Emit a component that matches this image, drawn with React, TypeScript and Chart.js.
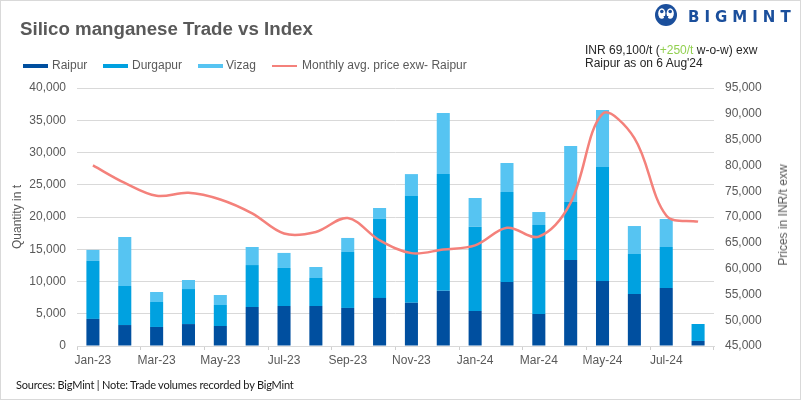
import React, { useEffect, useRef } from 'react';
import { Chart, registerables } from 'chart.js';

Chart.register(...registerables);

const categories = [
  'Jan-23', 'Feb-23', 'Mar-23', 'Apr-23', 'May-23', 'Jun-23', 'Jul-23', 'Aug-23', 'Sep-23', 'Oct-23',
  'Nov-23', 'Dec-23', 'Jan-24', 'Feb-24', 'Mar-24', 'Apr-24', 'May-24', 'Jun-24', 'Jul-24', 'Aug-24',
];
const raipur = [4200, 3250, 2950, 3400, 3100, 6050, 6200, 6200, 5900, 7450, 6700, 8550, 5430, 9920, 4960, 13330, 10080, 8060, 8990, 780];
const durgapur = [9000, 6050, 3870, 5430, 3260, 6500, 5900, 4340, 8680, 12250, 16550, 18120, 13070, 13960, 13800, 9000, 17670, 6200, 6360, 2630];
const vizag = [1700, 7600, 1550, 1400, 1550, 2800, 2330, 1710, 2170, 1700, 3400, 9450, 4450, 4490, 2010, 8680, 8840, 4340, 4340, 0];
const priceRaipur = [80000, 76600, 74100, 74700, 73400, 70700, 66800, 67100, 69800, 65500, 63000, 63700, 64500, 67900, 66200, 72800, 90000, 85300, 70300, 69100];

const qtyAxis = { min: 0, max: 40000, step: 5000 };
const priceAxis = { min: 45000, max: 95000, step: 5000 };

const COLORS = {
  raipur: '#004f9f',
  durgapur: '#00a1e0',
  vizag: '#56c4f2',
  price: '#f4817b',
  text: '#595959',
  grid: '#d9d9d9',
};

const FONT = "'Liberation Sans', Arial, sans-serif";

export default function App() {
  const ref = useRef<HTMLCanvasElement>(null);

  useEffect(() => {
    if (!ref.current) return;
    const fmt = (v: any) => Number(v).toLocaleString('en-US');
    const tickFont = { family: FONT, size: 12 };
    const chart = new Chart(ref.current, {
      type: 'bar',
      data: {
        labels: categories,
        datasets: [
          {
            type: 'line' as const,
            label: 'Monthly avg. price exw- Raipur',
            data: priceRaipur,
            yAxisID: 'y1',
            borderColor: COLORS.price,
            borderWidth: 2.5,
            pointRadius: 0,
            tension: 0.35,
            fill: false,
            order: 0,
          },
          {
            label: 'Raipur',
            data: raipur,
            backgroundColor: COLORS.raipur,
            barPercentage: 0.41,
            categoryPercentage: 1,
            order: 1,
          },
          {
            label: 'Durgapur',
            data: durgapur,
            backgroundColor: COLORS.durgapur,
            barPercentage: 0.41,
            categoryPercentage: 1,
            order: 1,
          },
          {
            label: 'Vizag',
            data: vizag,
            backgroundColor: COLORS.vizag,
            barPercentage: 0.41,
            categoryPercentage: 1,
            order: 1,
          },
        ] as any,
      },
      options: {
        animation: false,
        responsive: true,
        maintainAspectRatio: false,
        layout: { padding: { top: 88, bottom: 0, left: 0, right: 0 } },
        plugins: { legend: { display: false }, tooltip: { enabled: false } },
        scales: {
          x: {
            stacked: true,
            grid: {
              offset: true,
              drawOnChartArea: false,
              drawTicks: true,
              tickLength: 4,
              color: (ctx: any) =>
                ctx.index === undefined || ctx.index % 2 === 0 ? '#cfcfcf' : 'rgba(0,0,0,0)',
            },
            border: { color: COLORS.grid },
            ticks: {
              autoSkip: false,
              maxRotation: 0,
              minRotation: 0,
              padding: 3,
              color: COLORS.text,
              font: tickFont,
              callback: (_v: any, i: number) => (i % 2 === 0 ? categories[i] : ''),
            },
            afterFit: (s: any) => {
              s.height = 54;
            },
          },
          y: {
            stacked: true,
            min: qtyAxis.min,
            max: qtyAxis.max,
            ticks: { stepSize: qtyAxis.step, padding: 11, color: COLORS.text, font: tickFont, callback: fmt },
            grid: { color: COLORS.grid, drawTicks: false },
            border: { display: false },
            title: {
              display: true,
              text: 'Quantity in t',
              color: COLORS.text,
              font: { family: FONT, size: 12 },
              padding: { top: 10, bottom: 0 },
            },
            afterFit: (s: any) => {
              s.width = 77;
            },
          },
          y1: {
            position: 'right',
            stacked: false,
            min: priceAxis.min,
            max: priceAxis.max,
            ticks: { stepSize: priceAxis.step, padding: 11, color: COLORS.text, font: tickFont, callback: fmt },
            grid: { drawOnChartArea: false, drawTicks: false },
            border: { display: false },
            title: { display: false },
            afterFit: (s: any) => {
              s.width = 87;
            },
          },
        },
      } as any,
    });
    return () => chart.destroy();
  }, []);

  const legendItems = [
    { label: 'Raipur', color: COLORS.raipur, boxX: 23, textX: 52, h: 4 },
    { label: 'Durgapur', color: COLORS.durgapur, boxX: 103, textX: 132, h: 4 },
    { label: 'Vizag', color: COLORS.vizag, boxX: 198, textX: 226, h: 4 },
    { label: 'Monthly avg. price exw- Raipur', color: COLORS.price, boxX: 272, textX: 302, h: 2 },
  ];

  return (
    <div
      style={{
        position: 'absolute',
        left: 0,
        top: 0,
        width: 801,
        height: 400,
        background: '#fff',
        overflow: 'hidden',
        fontFamily: FONT,
      }}
    >
      <div style={{ position: 'absolute', left: 0, top: 0, width: 801, height: 400 }}>
        <canvas ref={ref} />
      </div>

      <div
        style={{
          position: 'absolute',
          left: 20,
          top: 20,
          fontSize: 18.7,
          lineHeight: 1,
          fontWeight: 'bold',
          color: COLORS.text,
          whiteSpace: 'nowrap',
        }}
      >
        Silico manganese Trade vs Index
      </div>

      {legendItems.map((it) => (
        <React.Fragment key={it.label}>
          <div
            style={{
              position: 'absolute',
              left: it.boxX,
              top: 66 - it.h / 2,
              width: 25,
              height: it.h,
              background: it.color,
            }}
          />
          <div
            style={{
              position: 'absolute',
              left: it.textX,
              top: 58,
              height: 15,
              lineHeight: '15px',
              fontSize: 12,
              color: COLORS.text,
              whiteSpace: 'nowrap',
            }}
          >
            {it.label}
          </div>
        </React.Fragment>
      ))}

      <div
        style={{
          position: 'absolute',
          left: 783,
          top: 215,
          transform: 'translate(-50%, -50%) rotate(-90deg)',
          fontSize: 12,
          lineHeight: 1,
          color: COLORS.text,
          whiteSpace: 'nowrap',
        }}
      >
        Prices in INR/t exw
      </div>

      <div
        style={{
          position: 'absolute',
          left: 585,
          top: 44,
          fontSize: 12,
          lineHeight: '13px',
          color: '#262626',
          whiteSpace: 'nowrap',
        }}
      >
        <div>
          INR 69,100/t (<span style={{ color: '#92d050' }}>+250/t</span> w-o-w) exw
        </div>
        <div>Raipur as on 6 Aug'24</div>
      </div>

      <svg style={{ position: 'absolute', left: 654, top: 3 }} width={24} height={24} viewBox="0 0 24 24">
        <circle cx={12} cy={12} r={11} fill="#1b4f9c" />
        <ellipse cx={7.8} cy={10.5} rx={3.6} ry={5.2} fill="#fff" />
        <ellipse cx={16.2} cy={10.5} rx={3.6} ry={5.2} fill="#fff" />
        <circle cx={7.8} cy={8.5} r={1.8} fill="#1b4f9c" />
        <circle cx={16.2} cy={8.5} r={1.8} fill="#1b4f9c" />
        <path d="M9.5 13 L12 21 L14.5 13 Z" fill="#1b4f9c" />
      </svg>
      <div
        style={{
          position: 'absolute',
          left: 688,
          top: 10,
          fontFamily: "'DejaVu Sans', sans-serif",
          fontWeight: 'bold',
          fontSize: 15,
          lineHeight: 1,
          letterSpacing: 5,
          color: '#1b4f9c',
          whiteSpace: 'nowrap',
        }}
      >
        BIGMINT
      </div>

      <div
        style={{
          position: 'absolute',
          left: 16,
          top: 379,
          fontFamily: "Lato, 'Liberation Sans', sans-serif",
          fontSize: 11,
          lineHeight: 1,
          letterSpacing: -0.2,
          color: '#1a1a1a',
          whiteSpace: 'nowrap',
        }}
      >
        Sources: BigMint | Note: Trade volumes recorded by BigMint
      </div>

      <div
        style={{
          position: 'absolute',
          left: 0,
          top: 0,
          width: 801,
          height: 400,
          boxSizing: 'border-box',
          border: '1px solid #d9d9d9',
          pointerEvents: 'none',
        }}
      />
    </div>
  );
}
